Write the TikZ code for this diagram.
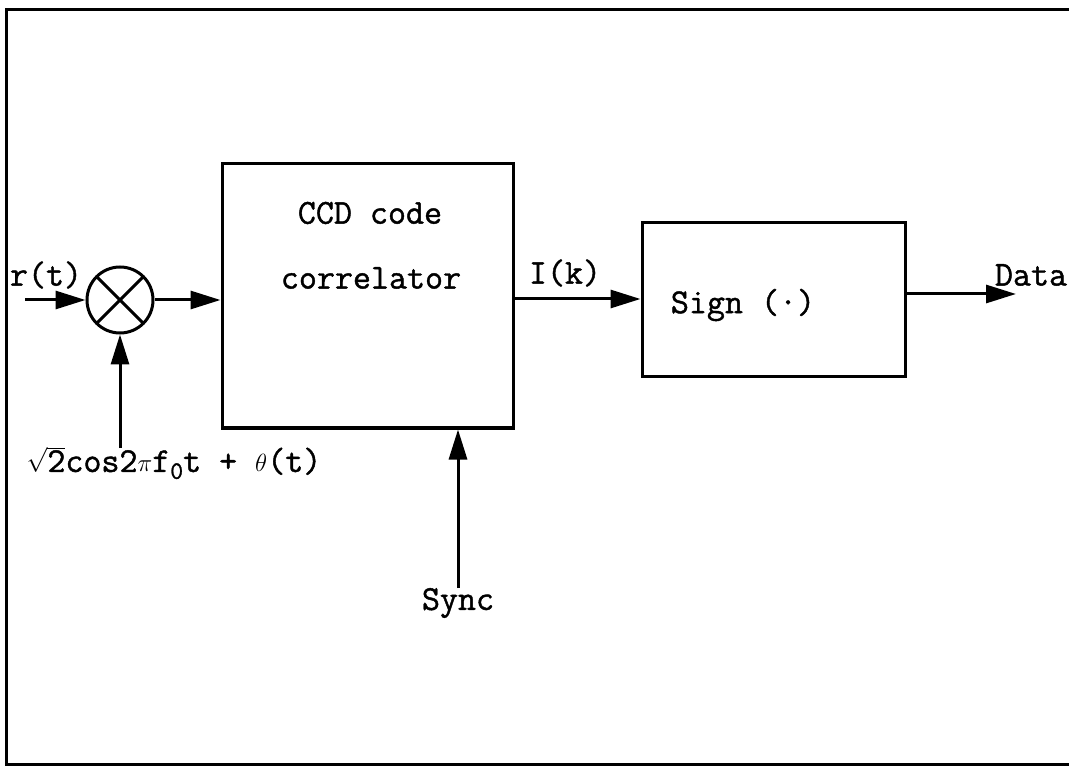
\documentclass[tikz,border=0pt]{standalone}
\usepackage{fontspec}
\newfontfamily\tw[FakeBold=1.2]{Latin Modern Mono}
\usetikzlibrary{arrows.meta,calc}
\begin{document}
\begin{tikzpicture}[x=1pt,y=-1pt,
  line width=3pt,
  every node/.style={font=\fontsize{35}{40}\selectfont\tw, inner sep=0pt},
  blk/.style={draw, rectangle},
  sig/.style={-{Triangle[length=30pt,width=18pt]}},
  lbl/.style={anchor=center}]
\useasboundingbox (0,0) rectangle (1069,767);
% frame (open on the right)
\draw (1069,10) -- (6,10) -- (6,764) -- (1069,764);
% mixer
\node[draw, circle, minimum size=66pt] (mix) at (120,300) {};
\draw ($(mix.center)+(-23,-23)$) -- ($(mix.center)+(23,23)$);
\draw ($(mix.center)+(23,-23)$) -- ($(mix.center)+(-23,23)$);
% blocks
\node[blk, minimum width=291pt, minimum height=264pt] (ccd) at (367.5,296) {};
\node[blk, minimum width=263pt, minimum height=154pt] (sgn) at (773.5,300) {};
% texts
\node[lbl] (t1) at (370,213) {CCD code};
\node[lbl] (t2) at (371,278) {correlator};
\node[lbl] (t3) at (743,305) {Sign (·)};
\node[lbl] (rt) at (46,275) {r(t)};
\node[lbl] (ik) at (565,273) {I(k)};
\node[lbl] (dt) at (1031,275) {Data};
\node[lbl] (sy) at (458,603) {Sync};
\node[lbl] (ref) at (174,463) {$\sqrt{\mbox{2}}$cos2$\pi$f\raisebox{-0.45ex}{\fontsize{25}{29}\selectfont 0}t + $\theta$(t)};
% coordinates
\coordinate (rin) at (25,300);
\coordinate (refin) at (120,448);
\coordinate (syncin) at (458,588);
\coordinate (dout) at (1016,294);
% connectors
\draw[sig] (rin) -- (mix.west);
\draw[sig] (refin) -- (mix.south);
\draw[sig] (mix.east) -- (ccd.west |- mix.east);
\draw[sig] (ccd.east |- 0,299) -- (sgn.west |- 0,299);
\draw[sig] (sgn.east |- dout) -- (dout);
\draw[sig] (syncin) -- (ccd.south -| syncin);
\end{tikzpicture}
\end{document}
